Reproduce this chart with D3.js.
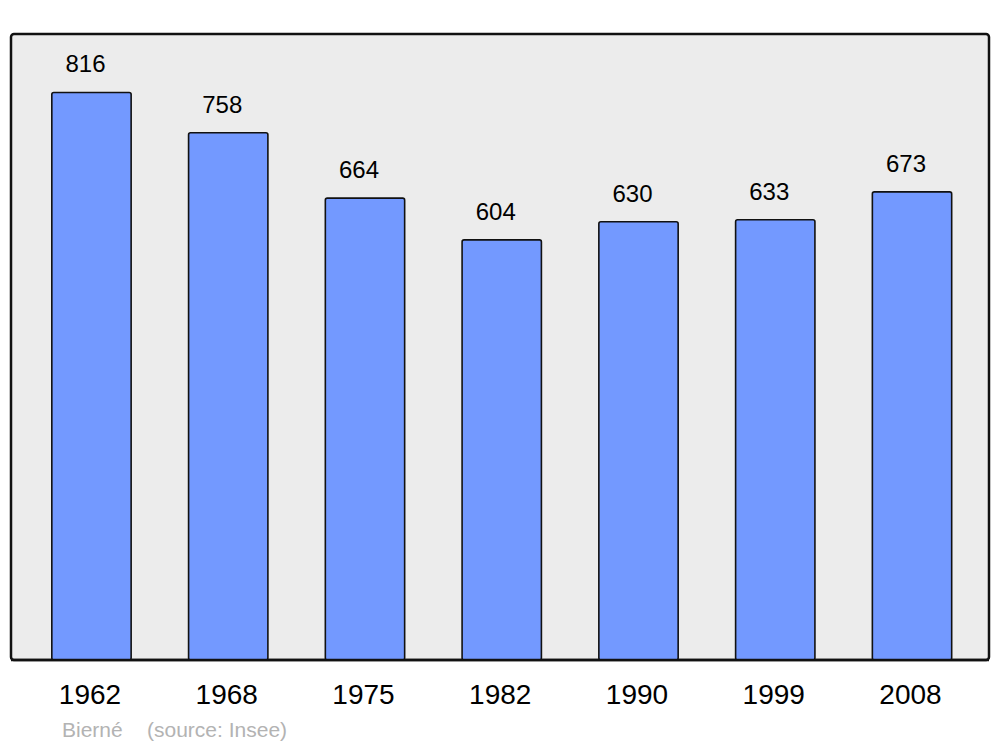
<!DOCTYPE html>
<html>
<head>
<meta charset="utf-8">
<script src="https://cdn.jsdelivr.net/npm/d3@7"></script>
<style>
  body { margin: 0; background: #fff; }
  svg { display: block; font-family: "Liberation Sans", Arial, sans-serif; }
</style>
</head>
<body>
<svg></svg>
<script>
var width = 1000;
var height = 747;

// data
var years = ["1962", "1968", "1975", "1982", "1990", "1999", "2008"];
var population = [816, 758, 664, 604, 630, 633, 673];
var place = "Bierné";
var source = "(source: Insee)";

var svg = d3.select("svg")
  .attr("width", width)
  .attr("height", height);

var panel = {left: 11, top: 34, right: 989, bottom: 660};

var x = d3.scaleBand()
  .domain(years)
  .range([23.1, 980.4])
  .paddingInner(0.42)
  .paddingOuter(0.21);

var y = d3.scaleLinear()
  .domain([0, 900])
  .range([panel.bottom, panel.top]);

// background panel
svg.append("rect")
  .attr("x", panel.left)
  .attr("y", panel.top)
  .attr("width", panel.right - panel.left)
  .attr("height", panel.bottom - panel.top)
  .attr("rx", 3)
  .attr("fill", "#ececec")
  .attr("stroke", "#111")
  .attr("stroke-width", 2.5);

var rows = years.map(function(d, i) { return {year: d, value: population[i]}; });

svg.append("g")
  .selectAll("rect")
  .data(rows)
  .enter().append("rect")
  .attr("x", function(d) { return x(d.year); })
  .attr("y", function(d) { return y(d.value); })
  .attr("width", x.bandwidth())
  .attr("height", function(d) { return y(0) - y(d.value); })
  .attr("rx", 2)
  .attr("fill", "#7399ff")
  .attr("stroke", "#111")
  .attr("stroke-width", 1.6);

// redraw bottom border over the bars
svg.append("line")
  .attr("x1", panel.left)
  .attr("x2", panel.right)
  .attr("y1", panel.bottom)
  .attr("y2", panel.bottom)
  .attr("stroke", "#111")
  .attr("stroke-width", 2.5);

// value labels
svg.append("g")
  .selectAll("text")
  .data(rows)
  .enter().append("text")
  .attr("x", function(d) { return x(d.year) + x.bandwidth() / 2 - 6; })
  .attr("y", function(d) { return y(d.value) - 20; })
  .attr("text-anchor", "middle")
  .attr("font-size", 24)
  .attr("fill", "#000")
  .text(function(d) { return d.value; });

// year labels
svg.append("g")
  .selectAll("text")
  .data(years)
  .enter().append("text")
  .attr("x", function(d) { return x(d) + x.bandwidth() / 2 - 1.5; })
  .attr("y", 704)
  .attr("text-anchor", "middle")
  .attr("font-size", 28)
  .attr("fill", "#000")
  .text(function(d) { return d; });

// footer
svg.append("text")
  .attr("x", 62)
  .attr("y", 737)
  .attr("font-size", 21)
  .attr("fill", "#b3b3b3")
  .text(place);

svg.append("text")
  .attr("x", 147)
  .attr("y", 737)
  .attr("font-size", 21)
  .attr("fill", "#b3b3b3")
  .text(source);
</script>
</body>
</html>
